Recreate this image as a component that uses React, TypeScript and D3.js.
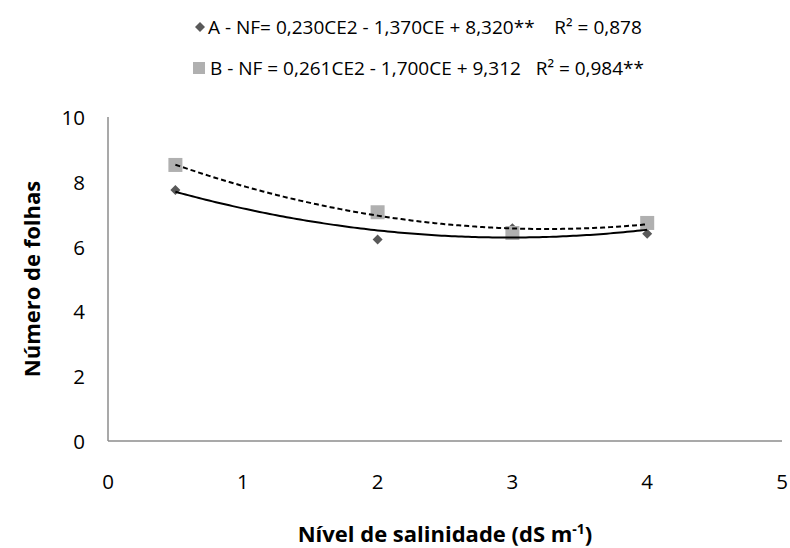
import React from "react";
import * as d3 from "d3";

const xValues = [0.5, 2, 3, 4];
const seriesA = [7.75, 6.22, 6.57, 6.4];
const seriesB = [8.52, 7.06, 6.42, 6.73];
const coefA = [0.23, -1.37, 8.32];
const coefB = [0.261, -1.7, 9.312];
const xTicks = [0, 1, 2, 3, 4, 5];
const yTicks = [0, 2, 4, 6, 8, 10];
const legendA = "A - NF= 0,230CE2 - 1,370CE + 8,320**    R² = 0,878";
const legendB = "B - NF = 0,261CE2 - 1,700CE + 9,312   R² = 0,984**";

const W = 790;
const H = 548;
const FONT2 = "'Open Sans', Lato, sans-serif";

export default function App() {
  const x = d3.scaleLinear().domain([0, 5]).range([108, 782]);
  const y = d3.scaleLinear().domain([0, 10]).range([441, 117]);
  const trendXs = d3.range(0, 141).map((i) => 0.5 + (i * 3.5) / 140);
  const trend = (c: number[]) =>
    d3
      .line<number>()
      .x((d) => x(d))
      .y((d) => y(c[0] * d * d + c[1] * d + c[2]))(trendXs) || "";
  const diamond = (cx: number, cy: number, r: number) =>
    `M${cx},${cy - r}L${cx + r},${cy}L${cx},${cy + r}L${cx - r},${cy}Z`;

  return (
    <svg
      width={W}
      height={H}
      style={{ position: "absolute", left: 0, top: 0, background: "#fff" }}
      fontFamily={FONT2}
    >
      <rect width={W} height={H} fill="#fff" />
      {/* legend */}
      <path d={diamond(200, 27, 5)} fill="#595959" />
      <text x={208} y={27} dominantBaseline="central" fontSize={19} fill="#000" style={{ whiteSpace: "pre" }}>
        {legendA}
      </text>
      <rect x={193} y={62} width={12} height={12} fill="#b0b0b0" />
      <text x={210} y={68} dominantBaseline="central" fontSize={19} fill="#000" style={{ whiteSpace: "pre" }}>
        {legendB}
      </text>

      {/* axes */}
      <line x1={x(0)} x2={x(0)} y1={y(10)} y2={y(0)} stroke="#8c8c8c" strokeWidth={1.5} />
      <line x1={x(0)} x2={x(5)} y1={y(0)} y2={y(0)} stroke="#8c8c8c" strokeWidth={1.5} />
      {yTicks.map((t) => (
        <text key={t} x={85} y={y(t)} textAnchor="end" dominantBaseline="central" fontSize={20.5} fill="#000">
          {t}
        </text>
      ))}
      {xTicks.map((t) => (
        <text key={t} x={x(t)} y={481} textAnchor="middle" dominantBaseline="central" fontSize={20.5} fill="#000">
          {t}
        </text>
      ))}

      {/* markers */}
      {xValues.map((v, i) => (
        <path key={"a" + i} d={diamond(x(v), y(seriesA[i]), 5)} fill="#595959" />
      ))}
      {xValues.map((v, i) => (
        <rect key={"b" + i} x={x(v) - 7} y={y(seriesB[i]) - 7} width={14} height={14} fill="#b0b0b0" />
      ))}

      {/* trend lines */}
      <path d={trend(coefA)} fill="none" stroke="#000" strokeWidth={2} />
      <path d={trend(coefB)} fill="none" stroke="#000" strokeWidth={2} strokeDasharray="5,3" />

      {/* titles */}
      <text
        transform={`translate(40,${(y(0) + y(10)) / 2}) rotate(-90)`}
        textAnchor="middle"
        fontSize={22}
        fontWeight="bold"
        fill="#000"
      >
        Número de folhas
      </text>
      <text x={(x(0) + x(5)) / 2} y={542} textAnchor="middle" fontSize={22} fontWeight="bold" fill="#000">
        Nível de salinidade (dS m
        <tspan dy={-8} fontSize={14}>-1</tspan>
        <tspan dy={8}>)</tspan>
      </text>
    </svg>
  );
}
